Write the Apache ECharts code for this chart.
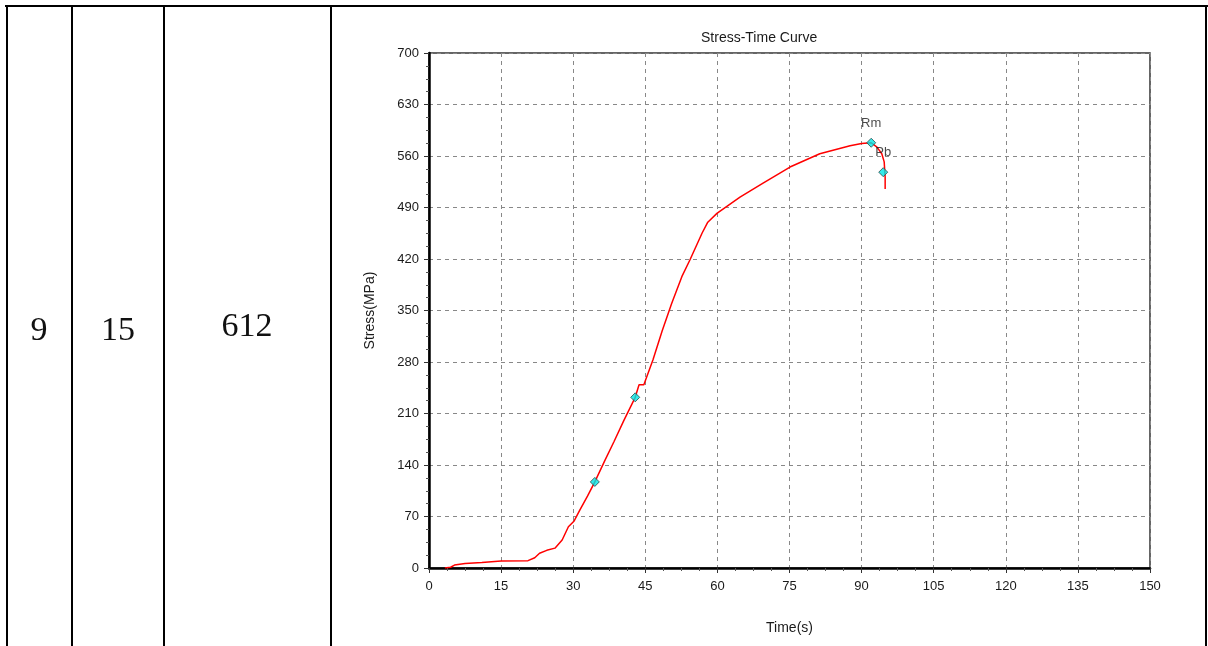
<!DOCTYPE html>
<html>
<head>
<meta charset="utf-8">
<script src="https://cdn.jsdelivr.net/npm/echarts@6/dist/echarts.min.js"></script>
<style>
  html, body { margin: 0; padding: 0; background: #fff; }
  #page { position: relative; width: 1208px; height: 646px; overflow: hidden; }
  .vline { position: absolute; top: 5px; bottom: 0; width: 2px; background: #000; }
  .hline { position: absolute; left: 5px; width: 1203px; top: 5px; height: 2px; background: #000; }
  .cell { position: absolute; font-family: "Liberation Serif", "Times New Roman", serif; font-size: 34px; color: #111; transform: translate(-50%, -50%); }
  #chart { position: absolute; left: 0; top: 0; width: 1208px; height: 646px; }
</style>
</head>
<body>
<div id="page">
  <div id="chart"></div>
  <div class="hline"></div>
  <div class="vline" style="left:6px"></div>
  <div class="vline" style="left:71px"></div>
  <div class="vline" style="left:163px"></div>
  <div class="vline" style="left:330px"></div>
  <div class="vline" style="left:1205px"></div>
  <div class="cell" style="left:39px; top:329px">9</div>
  <div class="cell" style="left:118px; top:329px">15</div>
  <div class="cell" style="left:247px; top:325px">612</div>
</div>
<script>
  // curve: time (s) and stress (MPa)
  var timeVals = [3.3, 4.5, 5.3, 7.5, 11, 15, 20.6, 22, 23, 24.5, 26.2, 27.7, 29, 30.2, 31.4, 33, 34.5, 36.5, 38.5, 40.5, 42.9, 43.7, 44.7, 46.6, 48.5, 50.5, 52.6, 54.3, 56.8, 58, 59.9, 64.7, 69.5, 75.1, 81.3, 87.6, 90, 92, 93.2, 94.2, 94.7, 94.9, 94.9];
  var stressVals = [0, 1, 4, 6, 7.5, 9.5, 10, 14, 20, 24, 27, 38, 56, 64, 79, 98, 117, 145, 172, 200, 232, 249, 249, 283, 322, 360, 396, 419, 455, 470, 482, 504, 523, 545, 563, 574, 577, 578, 572, 563, 552, 531, 515];

  var markTimes = [34.5, 42.9, 92, 94.5];
  var markStress = [117, 232, 578, 538];
  var markNames = ['', '', 'Rm', 'Pb'];

  var curve = timeVals.map(function(t, i) { return [t, stressVals[i]]; });
  var marks = markTimes.map(function(t, i) {
    return { value: [t, markStress[i]], name: markNames[i] };
  });

  var myChart = echarts.init(document.getElementById('chart'));
  var txt = '#1a1a1a';
  var font = 'Liberation Sans, Arial, sans-serif';

  myChart.setOption({
    animation: false,
    title: {
      text: 'Stress-Time Curve',
      left: 696,
      top: 26,
      textStyle: { fontSize: 14, fontWeight: 'normal', color: txt, fontFamily: font }
    },
    grid: {
      left: 429,
      top: 53,
      right: 58,
      bottom: 78,
      show: true,
      borderColor: '#333',
      borderWidth: 1.5
    },
    xAxis: {
      type: 'value',
      min: 0,
      max: 150,
      interval: 15,
      name: 'Time(s)',
      nameLocation: 'middle',
      nameGap: 53,
      nameTextStyle: { fontSize: 14, color: txt, fontFamily: font },
      axisLine: { onZero: false, lineStyle: { color: '#000', width: 2.5 } },
      axisTick: { length: 5, lineStyle: { color: '#333' } },
      minorTick: { show: true, splitNumber: 4, length: 3, lineStyle: { color: '#555' } },
      axisLabel: { fontSize: 13, color: txt, fontFamily: font, margin: 12 },
      splitLine: { show: true, lineStyle: { color: '#888', type: [4, 4], width: 1 } }
    },
    yAxis: {
      type: 'value',
      min: 0,
      max: 700,
      interval: 70,
      name: 'Stress(MPa)',
      nameLocation: 'middle',
      nameGap: 52,
      nameTextStyle: { fontSize: 14, color: txt, fontFamily: font },
      axisLine: { show: true, onZero: false, lineStyle: { color: '#000', width: 2.5 } },
      axisTick: { show: true, length: 5, lineStyle: { color: '#333' } },
      minorTick: { show: true, splitNumber: 4, length: 3, lineStyle: { color: '#555' } },
      axisLabel: { fontSize: 13, color: txt, fontFamily: font, margin: 10 },
      splitLine: { show: true, lineStyle: { color: '#888', type: [4, 4], width: 1 } }
    },
    series: [{
        type: 'line',
        data: curve,
        showSymbol: false,
        lineStyle: { color: '#ff0000', width: 1.5 },
        z: 3
      },
      {
        type: 'scatter',
        data: marks,
        symbol: 'diamond',
        symbolSize: 9,
        itemStyle: { color: '#00e6e6', borderColor: '#2a4a4a', borderWidth: 1 },
        label: {
          show: true,
          position: 'top',
          distance: 8,
          formatter: '{b}',
          fontSize: 13,
          color: txt,
          fontFamily: font
        },
        z: 4
      }
    ]
  });
</script>
</body>
</html>
